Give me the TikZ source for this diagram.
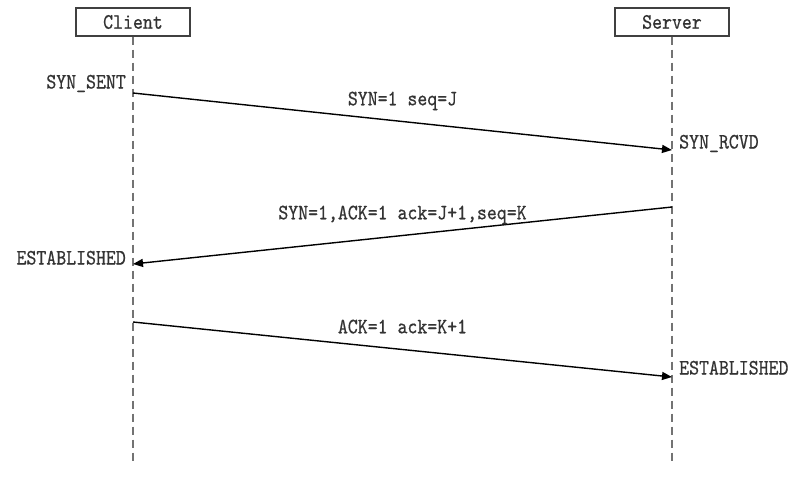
\documentclass[tikz,border=0pt]{standalone}
\usepackage{fontspec}
\newfontfamily\seqfont{lmmono10-regular.otf}[FakeStretch=0.86, FakeBold=0.6]
\usetikzlibrary{arrows.meta}
\begin{document}
\begin{tikzpicture}[x=1pt, y=-1pt,
    font=\seqfont\fontsize{22}{24}\selectfont,
    box/.style={draw=black!75, line width=1.3pt, minimum width=114pt, minimum height=28pt, inner sep=0pt},
    life/.style={draw=black!55, line width=2pt, dash pattern=on 8pt off 5pt},
    msg/.style={draw=black, line width=1.4pt, -{Triangle[length=10pt, width=8pt]}},
    tag/.style={inner sep=0pt, text depth=0pt, text=black!80}]
  \useasboundingbox (0,0) rectangle (801,480);
  % node
  \node[box, text=black!80] (client) at (133,22) {Client};
  \node[box, text=black!80] (server) at (672,22) {Server};
  \coordinate (cend) at (133,463);
  \coordinate (send) at (672,463);
  % lifelines
  \draw[life] (client) -- (cend);
  \draw[life] (server) -- (send);
  % points
  \coordinate (c1) at (133,93);
  \coordinate (s1) at (672,150);
  \coordinate (s2) at (672,207);
  \coordinate (c2) at (133,264);
  \coordinate (c3) at (133,322);
  \coordinate (s3) at (672,377);
  % states
  \node[tag, anchor=base east] (sent) at (126,88.5) {SYN\_SENT};
  \node[tag, anchor=base west] (rcvd) at (679,148.5) {SYN\_RCVD};
  \node[tag, anchor=base east] (estc) at (126,264.5) {ESTABLISHED};
  \node[tag, anchor=base west] (ests) at (679,374.5) {ESTABLISHED};
  % messages
  \draw[msg] (c1) -- node[tag, above=15.5pt] (m1) {SYN=1 seq=J} (s1);
  \draw[msg] (s2) -- node[tag, above=15.5pt] (m2) {SYN=1,ACK=1 ack=J+1,seq=K} (c2);
  \draw[msg] (c3) -- node[tag, above=15.5pt] (m3) {ACK=1 ack=K+1} (s3);
\end{tikzpicture}
\end{document}
